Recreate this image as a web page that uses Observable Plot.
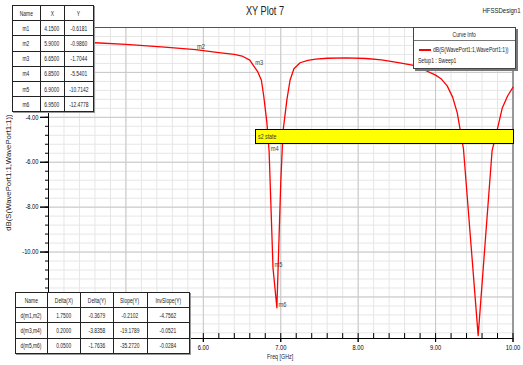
<!DOCTYPE html>
<html>
<head>
<meta charset="utf-8">
<script src="https://cdn.jsdelivr.net/npm/d3@7"></script>
<script src="https://cdn.jsdelivr.net/npm/@observablehq/plot@0.6"></script>
<style>
  html, body { margin: 0; padding: 0; background: #fff; }
  #wrap { position: relative; width: 523px; height: 365px; overflow: hidden;
    font-family: "Liberation Sans", Arial, sans-serif; color: #000; }
  #wrap svg { position: absolute; left: 0; top: 0; }
  .ov { position: absolute; white-space: nowrap; }
  .sq { display: inline-block; white-space: nowrap; }
  table.t { position: absolute; border-collapse: collapse; table-layout: fixed; background: #fff;
    font-size: 7px; box-shadow: 1px 1px 0 #999; }
  table.t td { border: 1px solid #222; text-align: center; padding: 0; overflow: visible; white-space: nowrap; line-height: 7px; color: #222; }
</style>
</head>
<body>
<div id="wrap"></div>
<script>
// ---- data ----
const freq = [4.00, 4.15, 4.60, 5.00, 5.50, 5.90, 6.20, 6.40, 6.50, 6.60, 6.65, 6.70, 6.75, 6.78, 6.82, 6.85, 6.90, 6.95,
  7.00, 7.03, 7.05, 7.08, 7.12, 7.17, 7.25, 7.35, 7.45, 7.60, 7.85, 8.10, 8.30, 8.50, 8.70, 8.85, 9.00, 9.07, 9.15,
  9.22, 9.28, 9.31, 9.36, 9.55, 9.73, 9.80, 9.86, 9.93, 10.00];
const dB = [-0.60, -0.618, -0.68, -0.75, -0.87, -0.986, -1.12, -1.20, -1.27, -1.45, -1.704, -1.95, -2.35, -3.05, -4.2, -5.54, -10.71, -12.48,
  -6.9, -4.6, -4.05, -3.2, -2.35, -1.84, -1.57, -1.46, -1.41, -1.37, -1.35, -1.38, -1.44, -1.55, -1.68, -1.88, -2.12, -2.28, -2.6,
  -3.1, -3.8, -4.4, -5.4, -13.72, -5.48, -4.5, -3.6, -3.05, -2.66];

const markerNames = ["m1", "m2", "m3", "m4", "m5", "m6"];
const markerX = [4.15, 5.90, 6.65, 6.85, 6.90, 6.95];
const markerY = [-0.6181, -0.9860, -1.7044, -5.5401, -10.7142, -12.4778];
const markerXText = ["4.1500", "5.9000", "6.6500", "6.8500", "6.9000", "6.9500"];
const markerYText = ["-0.6181", "-0.9860", "-1.7044", "-5.5401", "-10.7142", "-12.4778"];

const deltaNames = ["d(m1,m2)", "d(m3,m4)", "d(m5,m6)"];
const deltaX = ["1.7500", "0.2000", "0.0500"];
const deltaY = ["-0.3679", "-3.8358", "-1.7636"];
const slopeY = ["-0.2102", "-19.1789", "-35.2720"];
const invSlopeY = ["-4.7562", "-0.0521", "-0.0284"];

const xTicks = [4, 5, 6, 7, 8, 9, 10];
const xTickLabels = [6, 7, 8, 9, 10];
const yTicks = [0, -2, -4, -6, -8, -10, -12];
const yTickLabels = [-4, -6, -8, -10];
const xMinor = d3.range(0, 31).map(i => +(4 + i * 0.2).toFixed(2));
const yMinor = d3.range(0, 35).map(i => +(-i * 0.4).toFixed(2));

const title = "XY Plot 7";
const design = "HFSSDesign1";
const seriesName = "dB(S(WavePort1:1,WavePort1:1))";
const setupName = "Setup1 : Sweep1";
const legendTitle = "Curve Info";
const xLabel = "Freq [GHz]";
const noteText = "s2 state";

const yMin = -13.85, yMax = 0;

const curve = freq.map((f, i) => ({f, v: dB[i]}));
const markers = markerNames.map((n, i) => ({n, x: markerX[i], y: markerY[i]}));

const chart = Plot.plot({
  width: 523, height: 365,
  marginLeft: 48, marginRight: 10.5, marginTop: 27, marginBottom: 27,
  style: {fontFamily: '"Liberation Sans", Arial, sans-serif', fontSize: "7px", background: "#fff", color: "#000"},
  x: {domain: [4, 10]},
  y: {domain: [yMin, yMax]},
  marks: [
    Plot.ruleX(xMinor, {stroke: "#e6e6e6"}),
    Plot.ruleY(yMinor, {stroke: "#e6e6e6"}),
    Plot.ruleX(xTicks, {stroke: "#c8c8c8"}),
    Plot.ruleY(yTicks, {stroke: "#c8c8c8"}),
    Plot.frame({stroke: "#555"}),
    Plot.line(curve, {x: "f", y: "v", stroke: "#ff0000", strokeWidth: 1.3}),
    Plot.text(markers, {x: "x", y: "y", text: "n", textAnchor: "start", dx: 1.5, dy: -3, fill: "#444", fontSize: 7}),
    Plot.ruleX(xMinor, {y1: yMin, y2: yMin + 0.22, stroke: "#000"}),
    Plot.axisX({ticks: xTicks, tickSize: 4, tickFormat: () => "", label: null}),
    Plot.axisX({ticks: xTickLabels, tickFormat: d => d.toFixed(2), tickSize: 4, tickPadding: 3, label: null}),
    Plot.axisY({ticks: yMinor, tickSize: 3, tickFormat: () => "", label: null}),
    Plot.axisY({ticks: yTicks, tickSize: 8, tickFormat: () => "", label: null}),
    Plot.axisY({ticks: yTickLabels, tickFormat: d => d.toFixed(2), tickSize: 8, tickPadding: 2, label: null}),
    Plot.ruleX([4], {stroke: "#000"}),
    Plot.ruleY([yMin], {stroke: "#000"})
  ]
});

const wrap = document.getElementById("wrap");
wrap.appendChild(chart);

// condense SVG text like the narrow HFSS font
chart.querySelectorAll("text").forEach(el => {
  const w = el.getComputedTextLength();
  if (w > 0) {
    el.setAttribute("textLength", (w * 0.82).toFixed(2));
    el.setAttribute("lengthAdjust", "spacingAndGlyphs");
  }
});

function sq(text, s, origin) {
  return `<span class="sq" style="transform:scaleX(${s});transform-origin:${origin || "50% 50%"}">${text}</span>`;
}
function addDiv(html, css) {
  const d = document.createElement("div");
  d.className = "ov";
  d.innerHTML = html;
  Object.assign(d.style, css);
  wrap.appendChild(d);
  return d;
}

// title & design
addDiv(sq(title, 0.68), {left: "215px", width: "100px", textAlign: "center", top: "3px", fontSize: "13.5px", color: "#222"});
addDiv(sq(design, 0.8, "100% 50%"), {left: "460px", width: "61px", textAlign: "right", top: "6px", fontSize: "7.5px", color: "#222"});
// axis labels
addDiv(sq(xLabel, 0.76), {left: "250px", width: "60px", textAlign: "center", top: "353px", fontSize: "7px", color: "#222"});
addDiv(sq(seriesName, 0.97), {left: "-52px", width: "120px", textAlign: "center", top: "168px", fontSize: "8px", color: "#222",
  transform: "rotate(-90deg)", transformOrigin: "50% 50%"});

// note box
addDiv(sq(noteText, 0.75, "0 50%"), {left: "255px", top: "129px", width: "255px", height: "13px", background: "#ffff00",
  border: "1px solid #000", fontSize: "7px", lineHeight: "13px", paddingLeft: "2px", boxSizing: "content-box", color: "#333"});

// legend
addDiv(
  `<div style="text-align:center;height:12px;line-height:13px;border-bottom:1px solid #777;font-size:7px">${sq(legendTitle, 0.72)}</div>` +
  `<div style="position:absolute;left:5px;top:21px;width:12px;height:2px;background:#ff0000"></div>` +
  `<div style="position:absolute;left:19px;top:18px;font-size:7px">${sq(seriesName, 0.72, "0 50%")}</div>` +
  `<div style="position:absolute;left:4px;top:29px;font-size:7px">${sq(setupName, 0.72, "0 50%")}</div>`,
  {left: "413px", top: "27px", width: "101px", height: "40px", background: "#fff", border: "1px solid #444",
   boxShadow: "2px 2px 0 #777", color: "#222"});

// tables
function makeTable(headers, rows, widths, left, top, rowH) {
  const t = document.createElement("table");
  t.className = "t";
  t.style.left = left + "px";
  t.style.top = top + "px";
  let html = "<colgroup>" + widths.map(w => `<col style="width:${w}px">`).join("") + "</colgroup>";
  html += `<tr style="height:${rowH}px">` + headers.map(h => `<td>${sq(h, 0.7)}</td>`).join("") + "</tr>";
  rows.forEach(r => { html += `<tr style="height:${rowH}px">` + r.map(c => `<td>${sq(c, 0.7)}</td>`).join("") + "</tr>"; });
  t.innerHTML = html;
  t.style.width = d3.sum(widths) + "px";
  wrap.appendChild(t);
}
makeTable(["Name", "X", "Y"], markerNames.map((n, i) => [n, markerXText[i], markerYText[i]]),
  [27.5, 24, 29.5], 12, 5, 15.2);
makeTable(["Name", "Delta(X)", "Delta(Y)", "Slope(Y)", "InvSlope(Y)"],
  deltaNames.map((n, i) => [n, deltaX[i], deltaY[i], slopeY[i], invSlopeY[i]]),
  [31.5, 33.5, 32.5, 34, 42.5], 15, 292, 15.2);
</script>
</body>
</html>
